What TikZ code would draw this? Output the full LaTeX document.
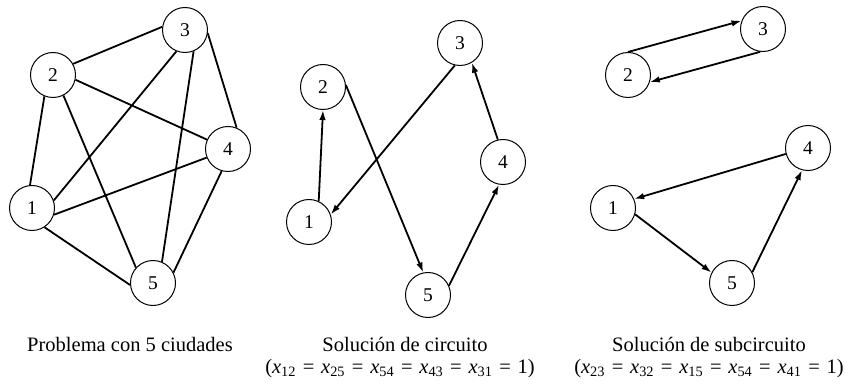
\documentclass[tikz,border=0pt]{standalone}
\usepackage{fontspec}
\setmainfont{Liberation Serif}
\usetikzlibrary{arrows.meta}
\newcommand{\eqsp}{\hspace{6.8pt}=\hspace{6.8pt}}
\begin{document}
\begin{tikzpicture}[x=1pt,y=-1pt,
  city/.style={circle,draw,line width=1pt,minimum size=45pt,inner sep=0pt,font=\fontsize{19.5}{21}\selectfont},
  edge/.style={line width=1.8pt},
  arc/.style={line width=1.8pt,-{Latex[length=10pt,width=6.5pt]}},
  lbl/.style={anchor=base,inner sep=0pt,font=\fontsize{20.5}{23}\selectfont}]
\useasboundingbox (0,0) rectangle (854,387);
% panel 1
\node[city] (a1) at (32,208) {1};
\node[city] (a2) at (53,75) {2};
\node[city] (a3) at (185,30) {3};
\node[city] (a4) at (228,149) {4};
\node[city] (a5) at (153,283) {5};
\draw[edge] (a2.29) -- (a3.172);
\draw[edge] (a2.-112) -- (a1.95);
\draw[edge] (a2.-63) -- (a5.138);
\draw[edge] (a2.-12) -- (a4.156);
\draw[edge] (a3.-112) -- (a1.19);
\draw[edge] (a3.-68) -- (a5.67);
\draw[edge] (a3.-8) -- (a4.68);
\draw[edge] (a1.-17) -- (a4.-158);
\draw[edge] (a1.-57) -- (a5.-175);
\draw[edge] (a4.-106) -- (a5.27);
% panel 2
\node[city] (b1) at (309,222) {1};
\node[city] (b2) at (323,87) {2};
\node[city] (b3) at (460,43) {3};
\node[city] (b4) at (503,162) {4};
\node[city] (b5) at (428,295) {5};
\draw[arc] (b1.65) -- (b2.-90);
\draw[arc] (b2.5) -- (b5.102);
\draw[arc] (b5.24) -- (b4.-100);
\draw[arc] (b4.103) -- (b3.-59);
\draw[arc] (b3.-103) -- (b1.19);
% panel 3
\node[city] (c1) at (613,208) {1};
\node[city] (c2) at (628,75) {2};
\node[city] (c3) at (763,29) {3};
\node[city] (c4) at (808,148) {4};
\node[city] (c5) at (732,283) {5};
\draw[arc] (c2.90) -- (c3.159);
\draw[arc] (c3.-97) -- (c2.-18);
\draw[arc] (c4.-165) -- (c1.23);
\draw[arc] (c1.-16) -- (c5.153);
\draw[arc] (c5.28) -- (c4.-105);
% labels
\node[lbl] (t1) at (130,352) {Problema con 5 ciudades};
\node[lbl] (t2) at (405,352) {Solución de circuito};
\node[lbl] (f2) at (400,373) {(\textit{x}\textsubscript{12}\eqsp\textit{x}\textsubscript{25}\eqsp\textit{x}\textsubscript{54}\eqsp\textit{x}\textsubscript{43}\eqsp\textit{x}\textsubscript{31}\eqsp1)};
\node[lbl] (t3) at (709,352) {Solución de subcircuito};
\node[lbl] (f3) at (709,373) {(\textit{x}\textsubscript{23}\eqsp\textit{x}\textsubscript{32}\eqsp\textit{x}\textsubscript{15}\eqsp\textit{x}\textsubscript{54}\eqsp\textit{x}\textsubscript{41}\eqsp1)};
\end{tikzpicture}
\end{document}
